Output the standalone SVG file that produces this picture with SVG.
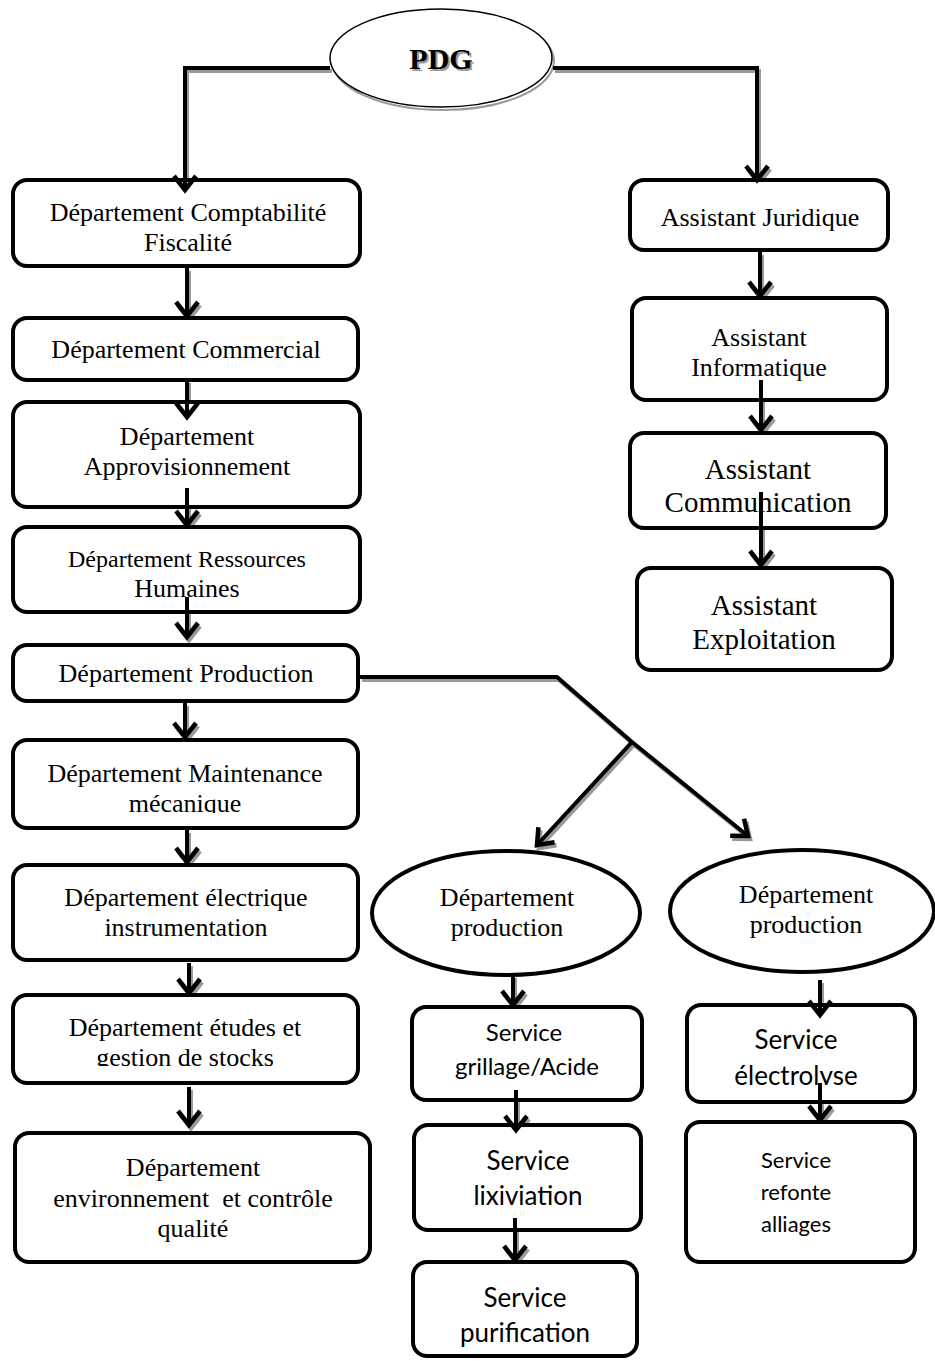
<svg xmlns="http://www.w3.org/2000/svg" width="935" height="1361" viewBox="0 0 935 1361">
<style>
.box{fill:#fff;stroke:#000;stroke-width:4}
.ell{fill:#fff;stroke:#000;stroke-width:4}
.t{font-family:"Liberation Serif","Times New Roman",serif;font-size:26px;fill:#000;text-anchor:middle}
.s{font-family:Lato,"Liberation Sans",sans-serif;font-size:24px;fill:#000;text-anchor:middle}
.ln{fill:none;stroke:#000;stroke-width:4;marker-end:url(#ah)}
.sh{fill:none;stroke:#999;stroke-width:4;marker-end:url(#ahs)}
.pl{fill:none;stroke:#000;stroke-width:4}
.ps{fill:none;stroke:#999;stroke-width:4}
</style>
<defs>
<marker id="ah" markerUnits="userSpaceOnUse" markerWidth="30" markerHeight="30" viewBox="-20 -15 30 30" refX="0" refY="0" orient="auto" overflow="visible">
<path d="M-14,-11 L0,0 L-14,11" fill="none" stroke="#000" stroke-width="4.5"/>
</marker>
<marker id="ahs" markerUnits="userSpaceOnUse" markerWidth="30" markerHeight="30" viewBox="-20 -15 30 30" refX="0" refY="0" orient="auto" overflow="visible">
<path d="M-14,-11 L0,0 L-14,11" fill="none" stroke="#999" stroke-width="4.5"/>
</marker>
<clipPath id="c6"><rect x="0" y="700" width="400" height="113"/></clipPath>
<clipPath id="c8"><rect x="0" y="990" width="400" height="76"/></clipPath>
<clipPath id="c14"><rect x="680" y="1000" width="255" height="85"/></clipPath>
</defs>

<rect width="935" height="1361" fill="#fff"/>

<g id="pdg">
<ellipse cx="443" cy="61" rx="111" ry="49" fill="none" stroke="#999" stroke-width="2"/>
<ellipse cx="441" cy="58" rx="111" ry="49" fill="#fff" stroke="#000" stroke-width="1.5"/>
<text x="443" y="71" class="t" style="font-weight:bold;font-size:30px;fill:#999">PDG</text>
<text x="441" y="69" class="t" style="font-weight:bold;font-size:30px">PDG</text>
</g>

<g id="connectors">
<g transform="translate(2,3)">
<path class="sh" d="M330,68 H185 V190"/>
<path class="sh" d="M553,68 H757 V180"/>
<path class="sh" d="M187,268 V316"/>
<path class="sh" d="M187,380 V417"/>
<path class="sh" d="M187,488 V525"/>
<path class="sh" d="M187,597 V637"/>
<path class="sh" d="M185,703 V737"/>
<path class="sh" d="M187,830 V862"/>
<path class="sh" d="M189,963 V993"/>
<path class="sh" d="M189,1087 V1125"/>
<path class="sh" d="M760,252 V296"/>
<path class="sh" d="M761,380 V430"/>
<path class="sh" d="M761,492 V565"/>
<path class="ps" d="M360,677 H557 L632,742"/>
<path class="sh" d="M632,742 L537,845"/>
<path class="sh" d="M632,742 L748,836"/>
<path class="sh" d="M513,975 V1005"/>
<path class="sh" d="M516,1090 V1130"/>
<path class="sh" d="M515,1218 V1260"/>
<path class="sh" d="M820,980 V1015"/>
<path class="sh" d="M820,1083 V1120"/>
</g>
</g>

<g id="n1"><rect class="box" x="13" y="180" width="347" height="86" rx="14"/>
<text class="t" x="188" y="221">Département Comptabilité</text><text class="t" x="188" y="251">Fiscalité</text></g>
<g id="n2"><rect class="box" x="13" y="318" width="345" height="62" rx="14"/>
<text class="t" x="186" y="358">Département Commercial</text></g>
<g id="n3"><rect class="box" x="13" y="402" width="347" height="105" rx="14"/>
<text class="t" x="187" y="445">Département</text><text class="t" x="187" y="475">Approvisionnement</text></g>
<g id="n4"><rect class="box" x="13" y="527" width="347" height="85" rx="14"/>
<text class="t" x="187" y="567" style="font-size:24px">Département Ressources</text><text class="t" x="187" y="597">Humaines</text></g>
<g id="n5"><rect class="box" x="13" y="645" width="345" height="56" rx="14"/>
<text class="t" x="186" y="682">Département Production</text></g>
<g id="n6"><rect class="box" x="13" y="740" width="345" height="88" rx="14"/>
<g clip-path="url(#c6)"><text class="t" x="185" y="782">Département Maintenance</text><text class="t" x="185" y="812">mécanique</text></g></g>
<g id="n7"><rect class="box" x="13" y="865" width="345" height="95" rx="14"/>
<text class="t" x="186" y="906">Département électrique</text><text class="t" x="186" y="936">instrumentation</text></g>
<g id="n8"><rect class="box" x="13" y="995" width="345" height="88" rx="14"/>
<g clip-path="url(#c8)"><text class="t" x="185" y="1036">Département études et</text><text class="t" x="185" y="1066">gestion de stocks</text></g></g>
<g id="n9"><rect class="box" x="15" y="1133" width="355" height="129" rx="14"/>
<text class="t" x="193" y="1176">Département</text><text class="t" x="193" y="1207" xml:space="preserve">environnement  et contrôle</text><text class="t" x="193" y="1237">qualité</text></g>

<g id="a1"><rect class="box" x="630" y="180" width="258" height="70" rx="14"/>
<text class="t" x="760" y="226">Assistant Juridique</text></g>
<g id="a2"><rect class="box" x="632" y="298" width="255" height="102" rx="14"/>
<text class="t" x="759" y="346">Assistant</text><text class="t" x="759" y="376">Informatique</text></g>
<g id="a3"><rect class="box" x="630" y="433" width="256" height="95" rx="14"/>
<text class="t" x="758" y="479" style="font-size:29px">Assistant</text><text class="t" x="758" y="512" style="font-size:29px">Communication</text></g>
<g id="a4"><rect class="box" x="637" y="568" width="255" height="102" rx="14"/>
<text class="t" x="764" y="615" style="font-size:29px">Assistant</text><text class="t" x="764" y="649" style="font-size:29px">Exploitation</text></g>

<g id="e1"><ellipse class="ell" cx="506" cy="913" rx="134" ry="62"/>
<text class="t" x="507" y="906">Département</text><text class="t" x="507" y="936">production</text></g>
<g id="e2"><ellipse class="ell" cx="802" cy="911" rx="132" ry="61"/>
<text class="t" x="806" y="903">Département</text><text class="t" x="806" y="933">production</text></g>

<g id="s1"><rect class="box" x="412" y="1007" width="230" height="93" rx="14"/>
<text class="s" x="524" y="1041">Service</text><text class="s" x="527" y="1075">grillage/Acide</text></g>
<g id="s2"><rect class="box" x="414" y="1125" width="227" height="105" rx="14"/>
<text class="s" x="528" y="1170" style="font-size:26px">Service</text><text class="s" x="528" y="1205" style="font-size:26px">lixiviation</text></g>
<g id="s3"><rect class="box" x="413" y="1262" width="224" height="94" rx="14"/>
<text class="s" x="525" y="1307" style="font-size:26px">Service</text><text class="s" x="525" y="1342" style="font-size:26px">purification</text></g>
<g id="s4"><rect class="box" x="687" y="1005" width="228" height="97" rx="14"/>
<g clip-path="url(#c14)"><text class="s" x="796" y="1049" style="font-size:26px">Service</text><text class="s" x="796" y="1085" style="font-size:26px">électrolyse</text></g></g>
<g id="s5"><rect class="box" x="686" y="1122" width="229" height="140" rx="14"/>
<text class="s" x="796" y="1168" style="font-size:22px">Service</text><text class="s" x="796" y="1200" style="font-size:22px">refonte</text><text class="s" x="796" y="1232" style="font-size:22px">alliages</text></g>

<g id="connectors-fg">
<path class="ln" d="M330,68 H185 V190"/>
<path class="ln" d="M553,68 H757 V180"/>
<path class="ln" d="M187,268 V316"/>
<path class="ln" d="M187,380 V417"/>
<path class="ln" d="M187,488 V525"/>
<path class="ln" d="M187,597 V637"/>
<path class="ln" d="M185,703 V737"/>
<path class="ln" d="M187,830 V862"/>
<path class="ln" d="M189,963 V993"/>
<path class="ln" d="M189,1087 V1125"/>
<path class="ln" d="M760,252 V296"/>
<path class="ln" d="M761,380 V430"/>
<path class="ln" d="M761,492 V565"/>
<path class="pl" d="M360,677 H557 L632,742"/>
<path class="ln" d="M632,742 L537,845"/>
<path class="ln" d="M632,742 L748,836"/>
<path class="ln" d="M513,975 V1005"/>
<path class="ln" d="M516,1090 V1130"/>
<path class="ln" d="M515,1218 V1260"/>
<path class="ln" d="M820,980 V1015"/>
<path class="ln" d="M820,1083 V1120"/>
</g>
</svg>
